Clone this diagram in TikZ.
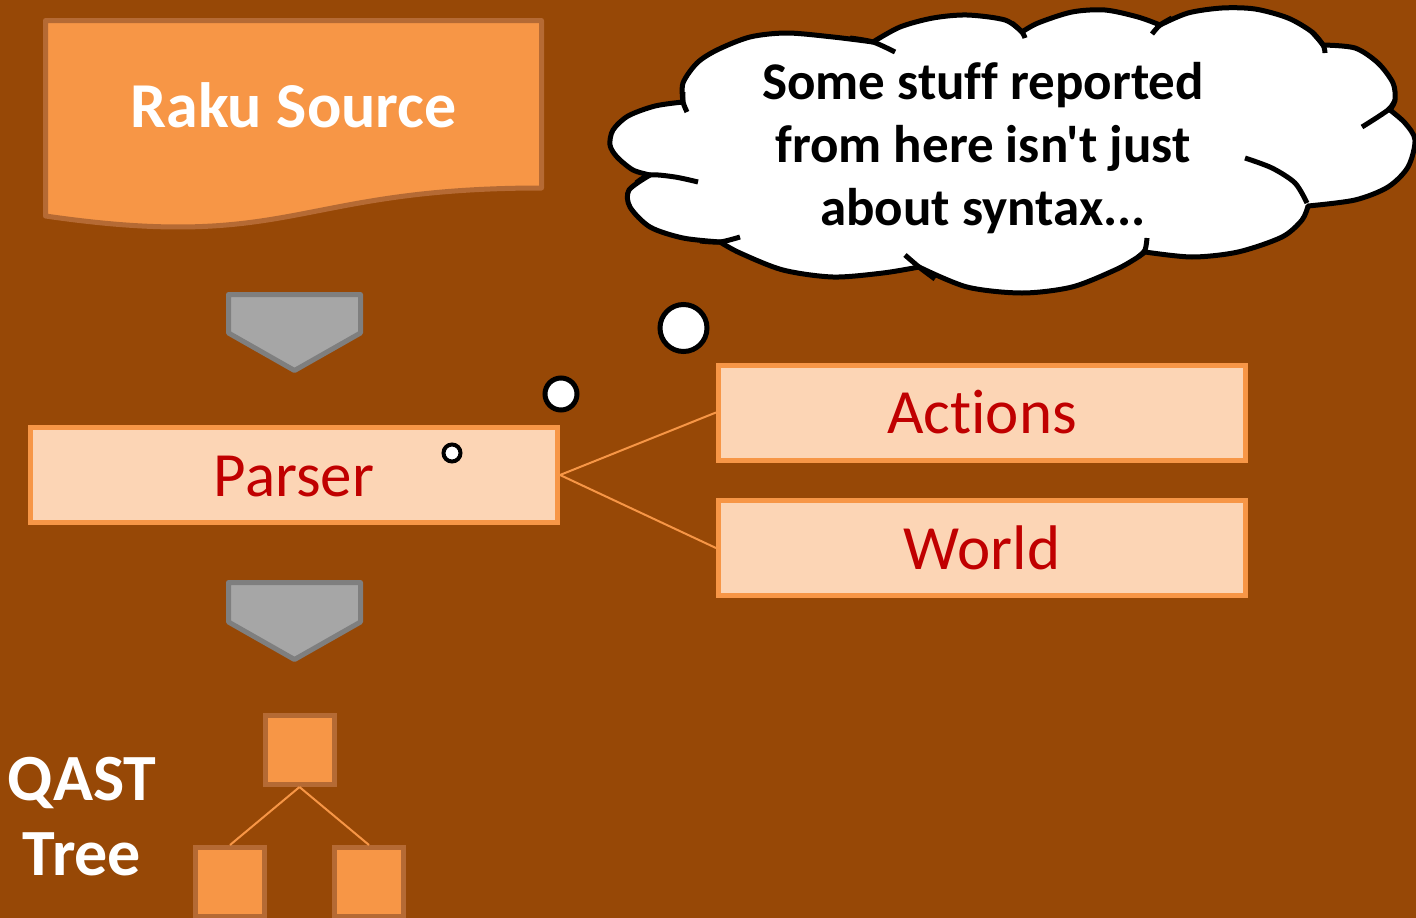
\documentclass[tikz,border=0pt]{standalone}
\usepackage{fontspec}
\setmainfont{Carlito}[Ligatures={NoCommon,TeXOff}]
\definecolor{bg}{RGB}{151,72,6}
\definecolor{acc}{RGB}{247,150,70}
\definecolor{accdark}{RGB}{181,106,52}
\definecolor{peach}{RGB}{252,213,181}
\definecolor{darkred}{RGB}{192,0,0}
\definecolor{arrowfill}{RGB}{166,166,166}
\definecolor{arrowline}{RGB}{127,127,127}
\begin{document}
\begin{tikzpicture}[x=1pt,y=-1pt,
  pbox/.style={draw=acc, fill=peach, line width=5pt, minimum width=527pt, minimum height=95pt,
    inner sep=0pt, text=darkred, font=\fontsize{63}{75}\selectfont, text height=42pt, text depth=0pt},
  treebox/.style={draw=accdark, fill=acc, line width=5pt, minimum size=69pt, inner sep=0pt},
  link/.style={draw=acc, line width=2pt},
  downarrow/.style={fill=arrowfill, draw=arrowline, line width=5pt, line join=round},
  docshape/.style={fill=acc, draw=accdark, line width=5pt, line join=round},
  bubble/.style={circle, fill=white, draw=black, inner sep=0pt},
  cloudshape/.style={fill=white, draw=black, line width=5pt, line join=round},
  cloudstroke/.style={draw=black, line width=5pt, line cap=butt},
  whitetext/.style={text=white, font=\bfseries\fontsize{64}{75}\selectfont}
]
\useasboundingbox (0,0) rectangle (1416,918);
\fill[bg] (0,0) rectangle (1416,918);
\clip (0,0) rectangle (1416,918);

% Raku Source document shape
\draw[docshape] (45.5,20.5) -- (541.5,20.5) -- (541.5,188)
  .. controls (293.5,188) and (293.5,252) .. (45.5,216) -- cycle;
\node[whitetext, text height=42pt, text depth=0pt, inner sep=0pt] (raku) at (293.5,106.6) {Raku Source};

% down arrows
\draw[downarrow] (228.5,294.5) -- (360.5,294.5) -- (360.5,333) -- (294.5,370.5) -- (228.5,333) -- cycle;
\draw[downarrow] (228.5,582.5) -- (360.5,582.5) -- (360.5,622) -- (294.5,659.5) -- (228.5,622) -- cycle;

% boxes
\node[pbox] (parser) at (294,475) {Parser};
\node[pbox] (actions) at (982,412.5) {Actions};
\node[pbox] (world) at (982,548) {World};
\draw[link] (parser.east) -- (actions.west);
\draw[link] (parser.east) -- (world.west);

% tree
\node[treebox] (troot) at (299.5,750) {};
\node[treebox] (tleft) at (230,882) {};
\node[treebox] (tright) at (369,882) {};
\draw[link] (troot.south) -- (tleft.north);
\draw[link] (troot.south) -- (tright.north);
\node[text=white, font=\bfseries\fontsize{66}{75}\selectfont, align=center, inner sep=0pt] (qast) at (82,816.5) {QAST\\Tree};

% thought bubbles
\node[bubble, line width=4pt, minimum size=17pt] (b1) at (452,453) {};
\node[bubble, line width=5pt, minimum size=32pt] (b2) at (561,394) {};
\node[bubble, line width=5pt, minimum size=47pt] (b3) at (683.5,328) {};

% cloud
\draw[cloudshape]
  plot[smooth] coordinates {(683,102) (683,83) (697,63) (717,50) (750,37) (787,33) (833,37) (873,42)}
  -- plot[smooth] coordinates {(873,42) (900,27) (933,18) (967,15) (1005,20) (1022,32)}
  -- plot[smooth] coordinates {(1022,32) (1038,23) (1072,12) (1105,10) (1138,17) (1160,25)}
  -- plot[smooth] coordinates {(1160,25) (1188,13) (1222,8) (1255,9) (1288,18) (1312,32) (1323,45)}
  -- plot[smooth] coordinates {(1323,45) (1355,48) (1378,63) (1393,83) (1395,100) (1390,110)}
  -- plot[smooth] coordinates {(1390,110) (1405,123) (1415,140) (1408,167) (1388,187) (1355,200) (1308,206)}
  -- plot[smooth] coordinates {(1308,206) (1302,220) (1282,237) (1238,252) (1192,257) (1145,252)}
  -- plot[smooth] coordinates {(1145,252) (1135,259) (1115,270) (1072,287) (1022,293) (967,287) (919,267)}
  -- plot[smooth] coordinates {(919,267) (883,273) (833,277) (783,270) (740,253) (720,242)}
  -- plot[smooth] coordinates {(720,242) (683,238) (650,227) (630,207) (629,190) (650,175)}
  -- plot[smooth] coordinates {(650,175) (633,170) (617,157) (610,145) (613,130) (628,116) (655,106) (683,102)}
  -- cycle;
% inner strokes of the cloud
\draw[cloudstroke] plot[smooth] coordinates {(683,92) (683,102) (687,112)};
\draw[cloudstroke] plot[smooth] coordinates {(850,38) (873,42) (895,52)};
\draw[cloudstroke] plot[smooth] coordinates {(1012,23) (1022,32) (1025,38)};
\draw[cloudstroke] plot[smooth] coordinates {(1152,34) (1160,25) (1172,18)};
\draw[cloudstroke] plot[smooth] coordinates {(1312,32) (1323,45) (1325,53)};
\draw[cloudstroke] plot[smooth] coordinates {(1395,100) (1388,110) (1362,127)};
\draw[cloudstroke] plot[smooth] coordinates {(1245,158) (1272,168) (1295,183) (1307,203)};
\draw[cloudstroke] plot[smooth] coordinates {(1147,238) (1145,250) (1138,257)};
\draw[cloudstroke] plot[smooth] coordinates {(935,279) (919,267) (905,255)};
\draw[cloudstroke] plot[smooth] coordinates {(700,241) (720,242) (740,237)};
\draw[cloudstroke] plot[smooth] coordinates {(636,183) (650,175) (675,177) (698,182)};
\node[font=\bfseries\fontsize{53}{63}\selectfont, align=center, inner sep=0pt] (cloudtext) at (983,148)
  {Some stuff reported\\from here isn't just\\about syntax...};
\end{tikzpicture}
\end{document}
